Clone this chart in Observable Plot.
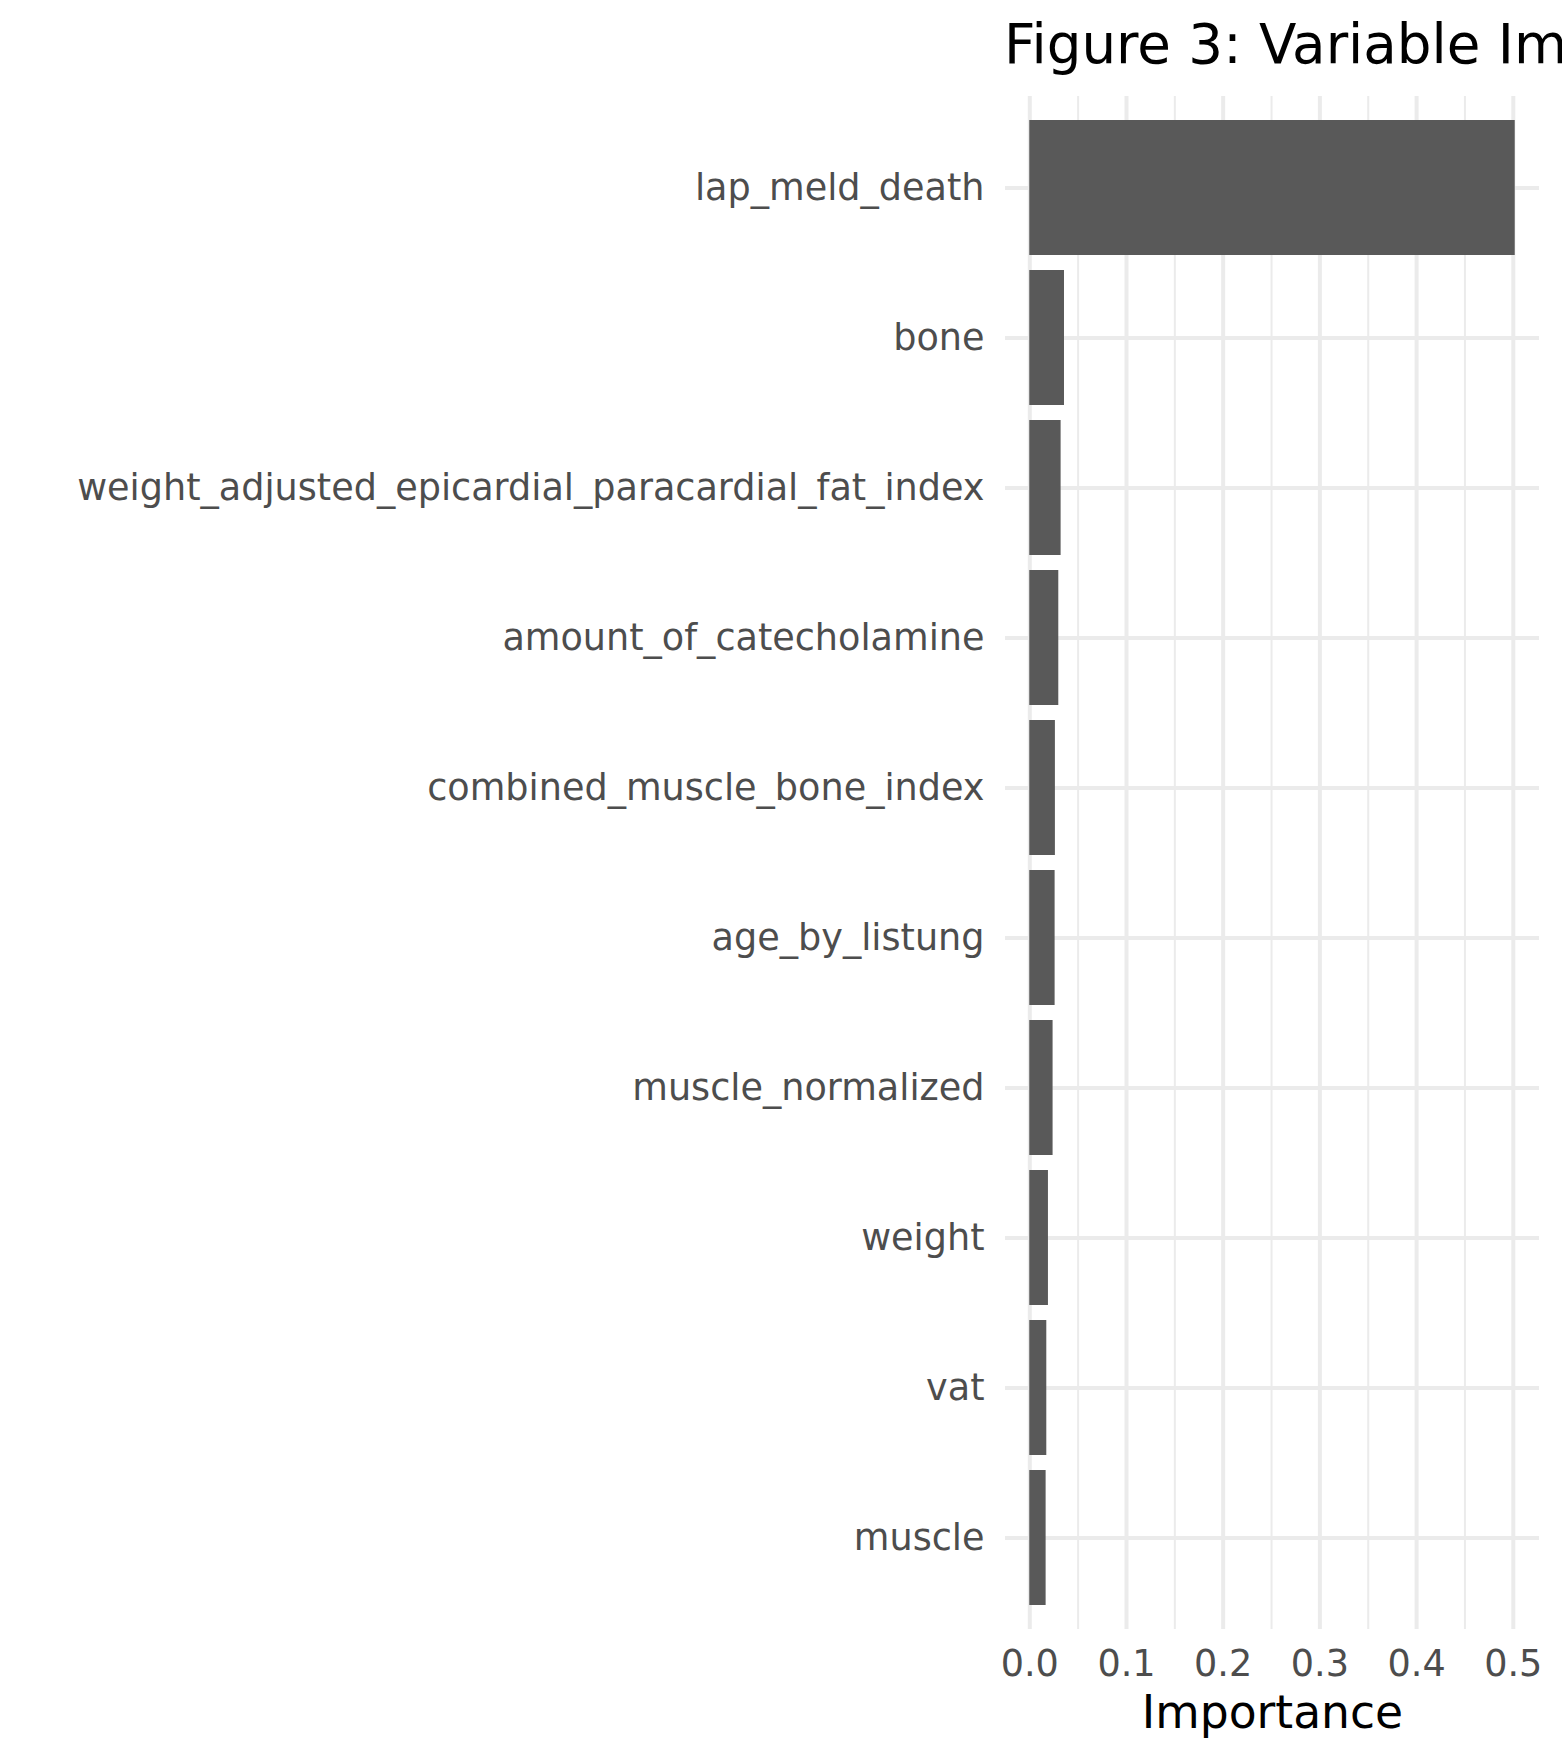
<!DOCTYPE html>
<html>
<head>
<meta charset="utf-8">
<script src="https://cdn.jsdelivr.net/npm/d3@7"></script>
<script src="https://cdn.jsdelivr.net/npm/@observablehq/plot@0.6"></script>
<style>
html, body { margin: 0; padding: 0; background: #fff; overflow: hidden; width: 1562px; height: 1759px; }
#title { box-sizing: border-box; width: 1562px; height: 96px; line-height: 88px; overflow: hidden; white-space: nowrap;
  font-family: "DejaVu Sans", sans-serif; font-size: 54.7px; color: #000; padding-left: 1004px; }
#chart svg { display: block; }
</style>
</head>
<body>
<div id="title">Figure 3: Variable Importance</div>
<div id="chart"></div>
<script>
// Data (top to bottom)
const variables = [
  "lap_meld_death",
  "bone",
  "weight_adjusted_epicardial_paracardial_fat_index",
  "amount_of_catecholamine",
  "combined_muscle_bone_index",
  "age_by_listung",
  "muscle_normalized",
  "weight",
  "vat",
  "muscle"
];
const importance = [0.502, 0.0359, 0.0324, 0.0300, 0.0265, 0.0262, 0.0241, 0.0193, 0.0176, 0.0169];
const majorTicks = [0.0, 0.1, 0.2, 0.3, 0.4, 0.5];
const minorTicks = [0.05, 0.15, 0.25, 0.35, 0.45];
const xLabel = "Importance";

const rows = variables.map((v, i) => ({variable: v, importance: importance[i]}));
const maxVal = d3.max(importance);

const chart = Plot.plot({
  width: 1562,
  height: 1663,
  marginLeft: 1005,
  marginRight: 23,
  marginTop: 0,
  marginBottom: 130,
  style: {fontFamily: "DejaVu Sans", fontSize: "36.6px", background: "#fff"},
  x: {domain: [-0.05 * maxVal, 1.05 * maxVal], label: null},
  y: {type: "band", domain: variables, paddingInner: 0.1, paddingOuter: 0.15, label: null},
  marks: [
    Plot.gridX(minorTicks, {stroke: "#ebebeb", strokeOpacity: 1, strokeWidth: 2}),
    Plot.gridX(majorTicks, {stroke: "#ebebeb", strokeOpacity: 1, strokeWidth: 4}),
    Plot.gridY(variables, {stroke: "#ebebeb", strokeOpacity: 1, strokeWidth: 4}),
    Plot.barX(rows, {y: "variable", x: "importance", fill: "#595959"}),
    Plot.axisY({tickSize: 0, tickPadding: 21, color: "#4d4d4d", fontSize: 36.6, label: null}),
    Plot.axisX(majorTicks, {tickSize: 0, tickPadding: 20, tickFormat: d3.format(".1f"), color: "#4d4d4d", fontSize: 36.6, label: null}),
    Plot.text([xLabel], {frameAnchor: "bottom", dy: 98, lineAnchor: "bottom", fontSize: 45.6, fill: "#000", text: d => d})
  ]
});
document.getElementById("chart").appendChild(chart);
</script>
</body>
</html>
